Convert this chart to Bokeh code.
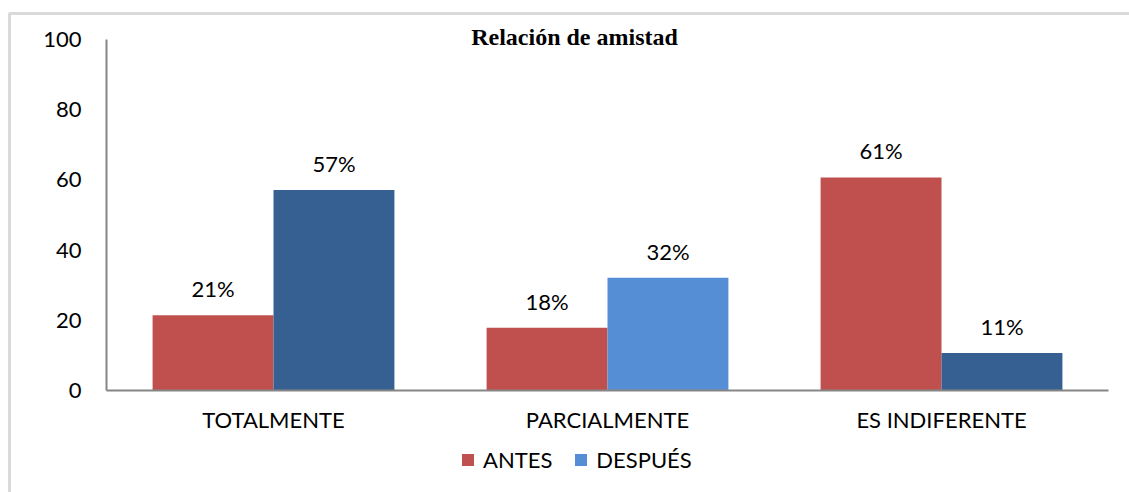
from bokeh.plotting import figure
from bokeh.models import (ColumnDataSource, LabelSet, Label, Legend, LegendItem, BoxAnnotation,
                          Range1d, FixedTicker)
from bokeh.core.properties import value
from bokeh.transform import dodge
from bokeh.embed import file_html
from bokeh.resources import INLINE

categories = ["TOTALMENTE", "PARCIALMENTE", "ES INDIFERENTE"]
antes = [21.43, 17.86, 60.71]
despues = [57.14, 32.14, 10.71]
antes_labels = ["21%", "18%", "61%"]
despues_labels = ["57%", "32%", "11%"]
yticks = [0, 20, 40, 60, 80, 100]

RED = "#C0504D"
DARK_BLUE = "#376092"
LIGHT_BLUE = "#558ED5"
GRAY = "#868686"
despues_colors = [DARK_BLUE, LIGHT_BLUE, DARK_BLUE]

FONT = "Lato"
W, H = 1129, 492
# frame geometry (canvas px): plot area 106..1108 horizontally, 100 at y=39, 0 at y=390
LEFT, RIGHT, TOP, BASE = 106, 1108, 39, 390
PX_PER_CAT = (RIGHT - LEFT) / len(categories)
PX_PER_UNIT = (BASE - TOP) / 100.0

# category slots: one unit per category, centred on i + 0.5
xpos = [i + 0.5 for i in range(len(categories))]

src = ColumnDataSource(dict(x=xpos, cat=categories, antes=antes, despues=despues,
                            al=antes_labels, dl=despues_labels, dc=despues_colors))

x_range = Range1d(-LEFT / PX_PER_CAT, len(categories) + (W - RIGHT) / PX_PER_CAT)
y_range = Range1d(-(H - BASE) / PX_PER_UNIT, 100 + TOP / PX_PER_UNIT)

p = figure(x_range=x_range, y_range=y_range,
           width=W, height=H, output_backend="svg", toolbar_location=None,
           min_border=0, min_border_left=0, min_border_right=0,
           min_border_top=0, min_border_bottom=0)
p.title.visible = False

bw = 0.362
ra = p.vbar(x=dodge("x", -bw / 2), top="antes", width=bw, source=src,
            fill_color=RED, line_color=None)
rd = p.vbar(x=dodge("x", bw / 2), top="despues", width=bw, source=src,
            fill_color="dc", line_color=None)

for col, lab, off in (("antes", "al", -bw / 2), ("despues", "dl", bw / 2)):
    p.add_layout(LabelSet(x=dodge("x", off), y=col, text=lab, source=src,
                          text_align="center", text_baseline="alphabetic", y_offset=18,
                          text_font=value(FONT), text_font_size="22px", text_color="#000000"))

p.xgrid.visible = False
p.ygrid.visible = False
p.outline_line_color = None

p.yaxis.ticker = yticks
p.yaxis.fixed_location = 0
p.yaxis.bounds = (0, 100)
p.yaxis.axis_line_color = GRAY
p.yaxis.axis_line_width = 2
p.yaxis.major_tick_line_color = None
p.yaxis.minor_tick_line_color = None
p.yaxis.major_tick_out = 0
p.yaxis.major_tick_in = 0
p.yaxis.minor_tick_out = 0
p.yaxis.major_label_standoff = 25
p.yaxis.major_label_text_font = FONT
p.yaxis.major_label_text_font_size = "22px"
p.yaxis.major_label_text_color = "#000000"

p.xaxis.ticker = FixedTicker(ticks=xpos)
p.xaxis.major_label_overrides = {x: c for x, c in zip(xpos, categories)}
p.xaxis.fixed_location = 0
p.xaxis.bounds = (0, len(categories))
p.xaxis.axis_line_color = GRAY
p.xaxis.axis_line_width = 2
p.xaxis.major_tick_line_color = None
p.xaxis.minor_tick_line_color = None
p.xaxis.major_tick_out = 0
p.xaxis.major_tick_in = 0
p.xaxis.minor_tick_out = 0
p.xaxis.major_label_standoff = 15
p.xaxis.major_label_text_font = FONT
p.xaxis.major_label_text_font_size = "22px"
p.xaxis.major_label_text_color = "#000000"

legend = Legend(items=[LegendItem(label="ANTES", renderers=[ra]),
                       LegendItem(label="DESPUÉS", renderers=[rd], index=1)],
                orientation="horizontal", location=(460, 19),
                label_text_font=FONT, label_text_font_size="22px", label_text_color="#000000",
                glyph_width=15, glyph_height=15, spacing=21, label_standoff=8,
                padding=0, margin=0, border_line_color=None, background_fill_alpha=0)
p.add_layout(legend, "center")

p.add_layout(BoxAnnotation(left=(9 - LEFT) / PX_PER_CAT, right=10,
                           top=100 + (TOP - 13) / PX_PER_UNIT, bottom=-1000,
                           fill_color=None, line_color=GRAY, line_width=3, level="overlay"))

p.add_layout(Label(x=574, y=H - 36, x_units="screen", y_units="screen",
                   text="Relación de amistad", text_align="center", text_baseline="alphabetic",
                   text_font="Liberation Serif", text_font_style="bold", text_font_size="24px",
                   text_color="#000000"))

open("out.html", "w").write(file_html(p, INLINE))
